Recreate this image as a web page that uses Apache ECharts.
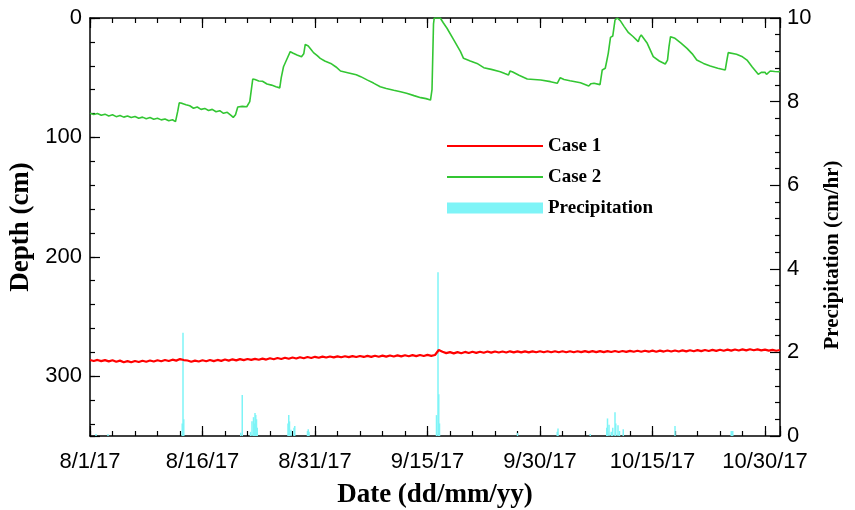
<!DOCTYPE html>
<html>
<head>
<meta charset="utf-8">
<script src="https://cdn.jsdelivr.net/npm/echarts@6/dist/echarts.min.js"></script>
<style>
  html, body { margin: 0; padding: 0; background: #ffffff; }
  #chart { width: 855px; height: 510px; }
</style>
</head>
<body>
<div id="chart"></div>
<script>
// Tick labels
const dateTickLabels = ['8/1/17', '8/16/17', '8/31/17', '9/15/17', '9/30/17', '10/15/17', '10/30/17'];
const depthTickLabels = ['0', '100', '200', '300'];
const rainTickLabels = ['0', '2', '4', '6', '8', '10'];

// Time is counted in days from 8/1/17 00:00
const caseOneStepDays = 0.5;
// Case 1 water-table depth (cm), one sample every 12 h
const caseOneDepth = [
  286.4, 287.2, 286.3, 287.3, 286.5, 287.5, 286.6, 287.8, 286.9, 288.2,
  287.3, 288.3, 287.2, 288.0, 287.0, 287.8, 286.8, 287.6, 286.6, 287.4,
  286.4, 287.2, 286.1, 286.9, 285.6, 286.4, 286.8, 287.8, 286.9, 287.6,
  286.6, 287.4, 286.4, 287.3, 286.3, 287.1, 286.0, 286.9, 285.8, 286.7,
  285.6, 286.5, 285.5, 286.3, 285.4, 286.2, 285.2, 286.0, 284.9, 285.7,
  284.7, 285.5, 284.5, 285.3, 284.3, 285.1, 284.1, 284.9, 283.9, 284.7,
  283.7, 284.5, 283.5, 284.3, 283.4, 284.2, 283.3, 284.1, 283.2, 284.0,
  283.1, 283.9, 283.0, 283.8, 282.9, 283.7, 282.8, 283.6, 282.7, 283.5,
  282.6, 283.4, 282.5, 283.3, 282.4, 283.2, 282.3, 283.1, 282.2, 283.0,
  282.1, 282.9, 282.2, 278.0, 279.5, 280.6, 279.8, 280.8, 279.8, 280.7,
  279.6, 280.5, 279.5, 280.4, 279.4, 280.3, 279.3, 280.2, 279.2, 280.1,
  279.2, 280.1, 279.1, 280.0, 279.1, 280.0, 279.1, 280.0, 279.1, 279.9,
  279.0, 279.9, 279.0, 279.9, 279.0, 279.9, 279.0, 279.9, 279.0, 279.9,
  279.0, 279.8, 278.9, 279.8, 278.9, 279.8, 278.9, 279.8, 278.9, 279.7,
  278.8, 279.7, 278.8, 279.6, 278.7, 279.5, 278.6, 279.5, 278.6, 279.4,
  278.5, 279.4, 278.5, 279.3, 278.4, 279.3, 278.4, 279.2, 278.3, 279.1,
  278.2, 279.0, 278.1, 278.9, 278.0, 278.8, 277.9, 278.7, 277.8, 278.6,
  277.7, 278.5, 277.6, 278.4, 277.5, 278.3, 277.4, 278.2, 277.5, 278.3,
  277.7, 278.5, 277.9, 278.6, 278.0
];

// Case 2 water-table depth (cm) as [day, depth]
const caseTwoDepth = [
  [0, 79.8], [0.5, 80.8], [1, 79.9], [1.5, 81.5], [2, 80.5], [2.5, 82.0], [3, 81.0], [3.5, 82.6],
  [4, 81.6], [4.5, 83.0], [5, 82.0], [5.5, 83.4], [6, 82.5], [6.5, 84.0], [7, 83.0], [7.5, 84.3],
  [8, 83.4], [8.5, 84.8], [9, 84.0], [9.5, 85.3], [10, 84.5], [10.5, 86.0], [11, 85.2], [11.4, 86.8],
  [11.7, 78.0], [11.9, 71.0], [12.3, 71.5], [12.8, 72.6], [13.3, 73.5], [13.8, 75.6], [14.3, 74.5],
  [14.8, 76.5], [15.3, 75.7], [15.8, 77.5], [16.3, 76.5], [16.8, 78.5], [17.3, 77.6], [17.8, 79.8],
  [18.3, 79.0], [18.8, 81.5], [19.1, 83.2], [19.4, 81.0], [19.7, 74.5], [20.3, 74.0], [20.9, 74.3],
  [21.3, 70.0], [21.7, 51.1], [22.0, 51.5], [22.5, 52.8], [23.0, 53.0], [23.6, 55.3], [24.2, 56.2],
  [24.8, 57.6], [25.3, 58.5], [25.5, 50.0], [25.8, 40.8], [26.2, 35.2], [26.7, 28.2], [27.1, 29.5],
  [27.6, 31.0], [28.2, 32.5], [28.5, 30.0], [28.7, 22.1], [29.1, 23.4], [29.5, 26.5], [29.8, 29.0],
  [30.3, 31.5], [30.7, 33.8], [31.3, 36.0], [32.1, 38.0], [32.8, 41.0], [33.4, 44.4], [34.5, 46.0],
  [35.5, 47.5], [36.1, 49.1], [37.0, 52.0], [37.8, 54.5], [38.7, 57.5], [39.5, 59.0], [40.5, 60.5],
  [41.4, 61.7], [42.2, 63.0], [43.2, 65.0], [44.1, 66.7], [44.8, 67.5], [45.4, 68.7], [45.6, 60.0],
  [45.8, 5.0], [45.9, 0], [46.7, 0], [47.1, 4.0], [47.6, 8.6], [48.5, 18.4], [49.4, 28.2], [49.8, 33.8],
  [50.7, 36.0], [51.6, 38.0], [52.5, 41.6], [53.5, 43.0], [54.7, 45.0], [55.3, 46.5], [55.8, 47.7],
  [56.0, 44.5], [56.3, 45.0], [57.2, 48.0], [58.3, 51.1], [59.2, 51.5], [60.1, 51.9], [61.4, 53.3],
  [62.3, 54.7], [62.5, 54.7], [62.7, 50.0], [63.2, 51.5], [64.0, 52.5], [65.4, 54.2], [66.5, 56.9],
  [66.8, 55.0], [67.2, 54.7], [68.0, 55.8], [68.3, 43.5], [68.7, 42.1], [68.9, 36.0], [69.1, 29.6],
  [69.4, 16.2], [69.7, 15.1], [70.0, 1.7], [70.3, 0], [70.7, 2.2], [71.2, 7.0], [71.8, 12.3],
  [72.4, 15.5], [73.1, 19.8], [73.3, 16.0], [73.5, 14.2], [74.3, 21.2], [75.1, 32.4], [75.9, 36.0],
  [76.7, 38.5], [77.0, 35.2], [77.2, 24.0], [77.4, 15.6], [78.0, 17.0], [78.8, 21.0], [79.6, 25.4],
  [80.3, 30.0], [80.9, 35.2], [81.8, 38.0], [82.7, 40.2], [83.7, 42.0], [84.7, 43.5], [84.9, 36.0],
  [85.1, 29.0], [86.2, 30.4], [87.0, 32.5], [87.6, 35.2], [88.3, 41.0], [89.1, 47.2], [89.5, 45.5],
  [90.0, 45.5], [90.2, 47.2], [90.7, 44.4], [91.3, 44.8], [91.8, 45.0], [92.0, 44.5]
];

// Hourly precipitation (cm/hr) as [day, rate]
const precipitation = [
  [0.8, 0.05], [2.4, 0.04], [12.3, 0.3], [12.4, 2.47], [12.5, 0.4], [20.1, 0.08], [20.3, 0.98],
  [21.4, 0.1], [21.6, 0.35], [21.8, 0.45], [21.9, 0.3], [22.0, 0.55], [22.1, 0.5], [22.2, 0.4],
  [22.3, 0.2], [26.4, 0.3], [26.5, 0.5], [26.6, 0.35], [26.8, 0.15], [27.2, 0.2], [27.3, 0.24],
  [29.0, 0.12], [29.1, 0.16], [29.2, 0.1], [46.2, 0.5], [46.4, 3.92], [46.5, 1.0], [46.6, 0.3],
  [57.0, 0.07], [62.3, 0.1], [62.4, 0.18], [66.7, 0.05], [68.9, 0.2], [69.0, 0.42], [69.2, 0.27],
  [69.5, 0.1], [69.7, 0.2], [70.0, 0.57], [70.1, 0.3], [70.4, 0.26], [70.6, 0.12], [71.1, 0.16],
  [78.0, 0.24], [85.5, 0.12], [85.7, 0.12]
];

const caseOneSeries = caseOneDepth.map((v, i) => [i * caseOneStepDays, v]);

const DAY_MAX = 92;
const DEPTH_MAX = 350;
const RAIN_MAX = 10;
const GRID = { left: 90, right: 75, top: 18, bottom: 74 };
const PLOT_W = 855 - GRID.left - GRID.right;
const PLOT_H = 510 - GRID.top - GRID.bottom;

const sansFont = 'Liberation Sans, Arial, sans-serif';
const serifFont = 'Liberation Serif, Times New Roman, serif';
const black = '#000000';
const frameLine = { show: true, onZero: false, lineStyle: { color: black, width: 1.5 } };
const hiddenLine = { show: false, onZero: false };
const tickStyle = { color: black, width: 1.2 };
// thin bar used as the legend mark of the line series
const lineIcon = 'path://M0,0 L96,0 L96,1.8 L0,1.8 Z';

// Tick-only axis, parked on the opposite side of the frame so that its
// outward ticks point into the plot area.
function tickRow(opts, len) {
  const base = {
    type: 'value',
    splitLine: { show: false },
    axisLine: hiddenLine,
    axisLabel: { show: false },
    axisTick: { show: true, length: len, lineStyle: tickStyle }
  };
  return Object.assign(base, opts);
}

const chart = echarts.init(document.getElementById('chart'), null, { renderer: 'canvas' });

chart.setOption({
  animation: false,
  backgroundColor: '#ffffff',
  grid: Object.assign({ containLabel: false, outerBoundsMode: 'none' }, GRID),
  legend: {
    orient: 'vertical',
    left: 447,
    top: 136,
    padding: 0,
    itemWidth: 96,
    itemHeight: 11,
    itemGap: 11,
    textStyle: { fontFamily: serifFont, fontWeight: 'bold', fontSize: 19, color: black, lineHeight: 20 },
    data: [
      { name: 'Case 1', icon: lineIcon },
      { name: 'Case 2', icon: lineIcon },
      { name: 'Precipitation', icon: 'rect' }
    ]
  },
  xAxis: [
    {
      type: 'value', position: 'bottom', min: 0, max: DAY_MAX, interval: 15,
      splitLine: { show: false },
      axisLine: frameLine,
      axisTick: { show: false },
      axisLabel: {
        margin: 15, fontFamily: sansFont, fontSize: 22, color: black,
        formatter: v => (v % 15 === 0 ? (dateTickLabels[v / 15] || '') : '')
      },
      name: 'Date (dd/mm/yy)', nameLocation: 'middle', nameGap: 46,
      nameTextStyle: { fontFamily: serifFont, fontWeight: 'bold', fontSize: 27, color: black }
    },
    {
      type: 'value', position: 'top', min: 0, max: DAY_MAX,
      splitLine: { show: false }, axisLine: frameLine,
      axisTick: { show: false }, axisLabel: { show: false }
    },
    // bottom edge ticks
    tickRow({ position: 'top', offset: -PLOT_H, min: 0, max: DAY_MAX, interval: 15 }, 10),
    tickRow({ position: 'top', offset: -PLOT_H, min: 0, max: DAY_MAX, interval: 3 }, 5),
    // top edge ticks
    tickRow({ position: 'bottom', offset: -PLOT_H, min: 0, max: DAY_MAX, interval: 15 }, 10),
    tickRow({ position: 'bottom', offset: -PLOT_H, min: 0, max: DAY_MAX, interval: 3 }, 5)
  ],
  yAxis: [
    {
      type: 'value', position: 'left', inverse: true, min: 0, max: DEPTH_MAX, interval: 100,
      splitLine: { show: false },
      axisLine: frameLine,
      axisTick: { show: false },
      axisLabel: {
        margin: 8, fontFamily: sansFont, fontSize: 22, color: black,
        formatter: v => (v % 100 === 0 ? (depthTickLabels[v / 100] || '') : '')
      },
      name: 'Depth (cm)', nameLocation: 'middle', nameRotate: 90, nameGap: 52,
      nameTextStyle: { fontFamily: serifFont, fontWeight: 'bold', fontSize: 27, color: black }
    },
    {
      type: 'value', position: 'right', min: 0, max: RAIN_MAX, interval: 2,
      splitLine: { show: false },
      axisLine: frameLine,
      axisTick: { show: false },
      axisLabel: {
        margin: 7, fontFamily: sansFont, fontSize: 22, color: black,
        formatter: v => (v % 2 === 0 ? (rainTickLabels[v / 2] || '') : '')
      },
      name: 'Precipitation (cm/hr)', nameLocation: 'middle', nameRotate: 90, nameGap: 40,
      nameTextStyle: { fontFamily: serifFont, fontWeight: 'bold', fontSize: 21, color: black, padding: [0, 56, 0, 0] }
    },
    // depth ticks on the left edge
    tickRow({ position: 'right', offset: -PLOT_W, inverse: true, min: 0, max: DEPTH_MAX, interval: 100 }, 10),
    tickRow({ position: 'right', offset: -PLOT_W, inverse: true, min: 0, max: DEPTH_MAX, interval: 20 }, 5),
    // precipitation ticks on the right edge
    tickRow({ position: 'left', offset: -PLOT_W, min: 0, max: RAIN_MAX, interval: 2,
      minorTick: { show: true, splitNumber: 5, length: 5, lineStyle: tickStyle } }, 10)
  ],
  series: [
    {
      name: 'Precipitation', type: 'bar', xAxisIndex: 0, yAxisIndex: 1,
      barWidth: 1.5, itemStyle: { color: '#7ef4f7' }, z: 1,
      data: precipitation
    },
    {
      name: 'Case 1', type: 'line', xAxisIndex: 0, yAxisIndex: 0,
      symbol: 'none', showSymbol: false, z: 3,
      lineStyle: { color: '#ff0000', width: 2.2 }, itemStyle: { color: '#ff0000' },
      data: caseOneSeries
    },
    {
      name: 'Case 2', type: 'line', xAxisIndex: 0, yAxisIndex: 0,
      symbol: 'none', showSymbol: false, z: 3,
      lineStyle: { color: '#33c633', width: 1.6 }, itemStyle: { color: '#33c633' },
      data: caseTwoDepth
    }
  ]
});
</script>
</body>
</html>
